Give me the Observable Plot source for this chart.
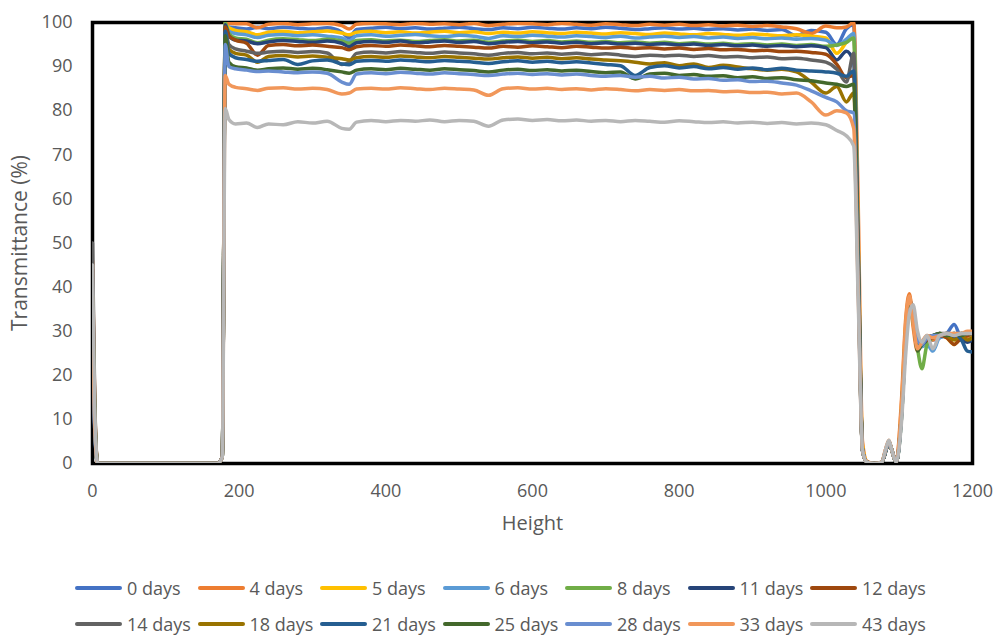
<!DOCTYPE html>
<html><head><meta charset="utf-8">
<script src="https://cdn.jsdelivr.net/npm/d3@7"></script>
<script src="https://cdn.jsdelivr.net/npm/@observablehq/plot@0.6"></script>
<style>
body{margin:0;background:#fff;width:996px;height:636px;overflow:hidden;position:relative;font-family:"Open Sans",sans-serif;color:#595959}
#chart{position:absolute;left:0;top:0}
.leg{position:absolute;display:flex;align-items:center;font-size:18px;white-space:nowrap;height:24px;line-height:24px}
.sw{width:47px;height:4px;border-radius:2px;margin-right:5px;flex:none}
</style></head><body><div id="chart"></div><div id="legend"></div>
<script>
const heights = [0,3,7,170,177,181,186,195,
 210,225,240,260,280,300,320,340,350,360,
 380,400,420,440,460,480,500,520,540,560,
 580,600,620,640,660,680,700,720,740,760,
 780,800,820,840,860,880,900,920,940,960,
 980,1000,1015,1028,
 1038,1044,1050,1056,1066,1076,1082,1086,1090,1096,1103,1109,1114,1119,1125,1131,1138,1146,1155,1165,1175,1185,1193,1200];

const seriesNames = ["0 days","4 days","5 days","6 days","8 days","11 days","12 days","14 days","18 days","21 days","25 days","28 days","33 days","43 days"];
const seriesColors = ["#4472C4","#ED7D31","#FFC000","#5B9BD5","#70AD47","#264478","#9E480E","#636363","#997300","#255E91","#43682B","#698ED0","#F1975A","#B7B7B7"];
const xTicks = [0,200,400,600,800,1000,1200];
const yTicks = [0,10,20,30,40,50,60,70,80,90,100];

const t0 = [25,8,0,0,1.5,99,99,98.8,
 98.5,98.9,98.6,98.9,98.7,98.5,98.8,97.8,96.5,98.4,
 98.7,98.9,98.6,98.8,98.5,98.7,98.9,98.6,98.4,98.8,
 98.6,98.9,98.7,98.5,98.8,98.6,98.9,98.7,98.4,98.6,
 98.8,98.5,98.7,98.4,98.6,98.3,98.5,98.2,98.4,97.0,
 98.2,97.8,95.0,98.6,
 99.5,50,3,0.3,0,0.2,3,5,3,0.3,11,30,36.5,34,28,27,28.5,28,28.5,29.5,31.5,28.5,29.5,29.5];
const t4 = [46,14,0,0,1.5,100,99.8,99.7,
 99.7,98.8,99.6,99.8,99.5,99.7,99.8,99.3,98.5,99.6,
 99.8,99.7,99.5,99.8,99.6,99.7,99.5,99.8,99.3,99.6,
 99.8,99.7,99.5,99.8,99.6,99.4,99.7,99.5,99.3,99.6,
 99.4,99.6,99.3,99.5,99.2,99.4,99.1,99.3,99.0,98.6,
 97.5,99.2,98.8,99.0,
 100,60,5,0.5,0,0.3,3.5,5,3,0.5,14,33,38.5,31,25.5,27.5,28.5,28,29,29.5,28.5,29.5,28.5,29];
const t5 = [40,12,0,0,1.5,99.5,98.8,98.2,
 97.9,97.2,97.8,98.0,97.7,97.9,98.1,97.6,97.2,97.8,
 98.0,97.7,97.9,97.6,97.8,98.0,97.7,97.9,97.5,97.8,
 97.6,97.9,97.7,97.5,97.8,97.6,97.4,97.7,97.5,97.3,
 97.6,97.4,97.2,97.5,97.3,97.1,97.4,97.2,97.0,97.2,
 96.9,96.5,93.0,95.5,
 97,52,4,0.4,0,0.2,3,5,3,0.3,12,31,37,33,27.5,27,28,28.5,29,28.5,27,29,29.5,29.5];
const t6 = [30,9,0,0,1.5,99,98,97.5,
 97.2,96.6,97.1,97.3,97.0,97.2,96.9,96.5,95.8,97.0,
 97.2,96.9,97.1,97.3,97.0,96.8,97.1,96.9,96.4,97.0,
 96.8,97.1,96.9,96.7,97.0,96.8,96.6,96.9,96.5,96.7,
 96.9,96.6,96.8,96.5,96.7,96.4,96.6,96.3,96.5,96.2,
 96.4,96.0,94.8,96.2,
 97.5,50,3,0.3,0,0.2,3,5,3,0.3,11,30,36,33,28,26.5,27,25.5,28.5,29,29.5,29,29.5,29.5];
const t8 = [35,10,0,0,1.5,100,97.5,96.5,
 96.2,95.4,96.0,96.3,96.1,95.9,96.2,95.8,95.3,95.9,
 96.1,95.8,96.0,95.7,95.9,96.1,95.8,96.0,95.5,95.8,
 96.0,95.7,95.9,95.6,95.8,95.5,95.7,95.4,95.6,95.3,
 95.5,95.2,95.4,95.1,95.3,95.0,95.2,94.9,95.1,94.8,
 95.0,94.6,94.9,95.5,
 96.5,48,3,0.3,0,0.2,3,5,3,0.3,10,28,35,32,26,21.5,27,28.5,29,29.5,29,29.5,29,29.5];
const t11 = [42,12,0,0,1.5,99.5,97,96,
 95.8,95.2,95.6,95.9,95.7,95.5,95.8,95.3,94.5,95.4,
 95.7,95.5,95.8,95.4,95.6,95.8,95.5,95.7,95.2,95.5,
 95.7,95.4,95.6,95.3,95.5,95.2,95.4,95.1,95.3,95.0,
 95.2,94.9,95.1,94.8,95.0,94.7,94.9,94.6,94.8,94.5,
 94.7,94.3,91.5,93.5,
 91,48,3,0.3,0,0.2,3,5,3,0.3,11,29,36,33.5,28,27,28,28.5,29,29,28.5,28,27.5,28];
const t12 = [44,13,0,0,1.5,99,97,96,
 95.3,92.6,94.8,95.0,94.7,94.9,94.6,94.3,93.8,94.5,
 94.8,94.6,94.9,94.7,94.5,94.8,94.6,94.4,94.2,94.6,
 94.4,94.7,94.5,94.3,94.6,94.4,94.2,94.4,94.1,94.3,
 94.0,94.2,93.9,94.1,93.8,93.9,93.6,93.7,93.4,93.5,
 93.2,92.8,90.5,87.5,
 88,46,3,0.3,0,0.2,3,5,3,0.3,11,29,36.5,34,29,27.5,28,28.5,29,28.5,27,28.5,29,29.5];
const t14 = [50,15,0,0,1.5,98,95,94,
 93.5,93.0,93.3,93.5,93.2,93.4,93.1,90.5,91.0,93.0,
 93.3,93.1,93.4,93.2,93.0,93.3,93.1,92.9,92.6,93.0,
 93.2,92.9,93.1,92.8,93.0,92.7,92.9,92.6,92.3,92.6,
 92.4,92.6,92.3,92.5,92.2,92.3,92.0,92.2,91.8,91.9,
 91.5,91.0,89.4,86.5,
 93,50,3,0.3,0,0.2,3,5,3,0.3,11,30,37,35,29,27,28.5,29,29.5,29.5,29,29.5,29.5,29.5];
const t18 = [38,11,0,0,1.5,97,94,93,
 92.6,91.0,92.3,92.5,92.2,92.4,92.1,91.8,91.5,92.0,
 92.3,92.1,92.4,92.2,92.0,92.3,92.1,91.9,91.7,92.0,
 92.2,91.9,92.1,91.8,92.0,91.7,91.5,91.3,91.0,90.6,
 90.9,90.2,90.6,89.8,90.3,89.9,89.5,89.2,89.4,88.8,
 86.5,84.0,85.5,82.0,
 84,45,3,0.3,0,0.2,3,5,3,0.3,11,29,36,34,28.5,27.5,28.5,29,29.5,29,28,29,28,28.5];
const t21 = [33,10,0,0,1.5,98,93,92,
 91.6,91.2,91.4,91.6,90.5,91.3,91.5,90.6,90.4,91.2,
 91.4,91.2,91.5,91.3,91.1,91.4,91.2,91.0,90.7,91.1,
 91.3,91.0,91.2,90.9,91.1,90.8,90.5,90.2,88.0,89.8,
 90.2,89.7,90.0,89.5,89.8,89.4,89.7,89.3,89.6,89.2,
 89.0,88.8,88.5,87.8,
 89,45,3,0.3,0,0.2,3,5,3,0.3,11,29,36.5,34,28,27,28.5,29,29.5,29,29.5,28,25.5,25.3];
const t25 = [36,11,0,0,1.5,97,91,90,
 89.7,89.2,89.5,89.7,89.4,89.6,89.3,88.8,88.5,89.2,
 89.5,89.3,89.6,89.4,89.2,89.5,89.3,89.1,88.8,89.2,
 89.4,89.1,89.3,89.0,89.2,88.9,88.6,88.8,87.2,88.3,
 88.5,88.0,88.2,87.8,87.9,87.5,87.7,87.3,87.5,87.0,
 86.8,86.3,86.0,85.5,
 86,44,3,0.3,0,0.2,3,5,3,0.3,10,28,35.5,33,25.5,27,28.5,29,29.5,29,29.5,29,29.5,29.5];
const t28 = [28,8,0,0,1.5,95,90,89.5,
 89.2,88.9,89.0,88.8,88.6,88.8,88.5,86.5,86.0,88.3,
 88.6,88.4,88.7,88.5,88.3,88.6,88.4,88.2,88.0,88.3,
 88.5,88.2,88.4,88.1,88.3,88.0,87.8,88.0,87.6,87.8,
 87.4,87.6,87.2,87.3,86.9,87.0,86.6,86.7,86.3,85.8,
 84.5,83.0,82.0,80.0,
 79.5,42,3,0.3,0,0.2,3,5,3,0.3,10,28,35,33,28,27,28.5,29,29,29.5,29,29.5,29.5,30];
const t33 = [30,9,0,0,1.5,88,86,85.3,
 85.0,84.6,85.1,85.2,84.9,85.1,84.8,83.8,84.0,84.9,
 85.1,84.9,85.2,85.0,84.8,85.1,84.9,84.7,83.5,85.0,
 85.2,84.9,85.1,84.8,85.0,84.7,85.0,84.8,84.5,84.8,
 84.6,84.8,84.5,84.6,84.3,84.4,84.1,84.2,83.8,84.0,
 82.0,79.0,80.0,79.5,
 76,40,3,0.3,0,0.3,3.5,5.3,3,0.4,13,32,38,32,26,27.5,29,28.5,29,29.5,29.5,29.5,30,30];
const t43 = [45,13,0,0,1.5,80.5,78,77,
 77.2,76.2,77.0,76.8,77.5,77.2,77.6,76.0,75.8,77.4,
 77.8,77.5,77.8,77.6,77.9,77.5,77.8,77.6,76.5,77.9,
 78.1,77.8,78.0,77.7,77.9,77.6,77.8,77.5,77.8,77.6,
 77.4,77.7,77.5,77.3,77.5,77.2,77.4,77.1,77.3,77.0,
 77.2,76.8,75.5,74.3,
 72,38,3,0.3,0,0.3,3.5,5.3,3,0.4,9,25,34,36,30,27.5,29,26,29,29.5,29,29.5,29.5,29.5];

const seriesValues = [t0,t4,t5,t6,t8,t11,t12,t14,t18,t21,t25,t28,t33,t43];

const table = [];
seriesValues.forEach((vals, i) => vals.forEach((v, j) => table.push({height: heights[j], transmittance: v, series: seriesNames[i]})));

const plot = Plot.plot({
  width: 996, height: 545,
  marginLeft: 92, marginRight: 24, marginTop: 22, marginBottom: 82,
  style: {fontFamily: "'Open Sans', sans-serif", fontSize: "18px", color: "#595959", background: "white", overflow: "visible"},
  x: {domain: [0, 1200], ticks: xTicks, tickFormat: d => String(d), tickSize: 0, tickPadding: 21, label: null},
  y: {domain: [0, 100], ticks: yTicks, tickFormat: d => String(d), tickSize: 0, tickPadding: 20, label: null},
  color: {domain: seriesNames, range: seriesColors},
  marks: [
    Plot.frame({stroke: "black", strokeWidth: 3.5}),
    Plot.line(table, {x: "height", y: "transmittance", z: "series", stroke: "series", strokeWidth: 3.5, curve: "monotone-x", clip: true}),
    Plot.text(["Height"], {text: d => d, frameAnchor: "bottom", dy: 66, fill: "#595959", fontSize: 20}),
    Plot.text(["Transmittance (%)"], {text: d => d, frameAnchor: "left", textAnchor: "middle", dx: -72, rotate: -90, fill: "#595959", fontSize: 21})
  ]
});
document.getElementById("chart").appendChild(plot);

const legend = document.getElementById("legend");
seriesNames.forEach((name, i) => {
  const row = Math.floor(i / 7), col = i % 7;
  const item = document.createElement("div");
  item.className = "leg";
  item.style.left = (75 + col * 122.5) + "px";
  item.style.top = (576 + row * 36) + "px";
  const sw = document.createElement("span");
  sw.className = "sw";
  sw.style.background = seriesColors[i];
  const tx = document.createElement("span");
  tx.textContent = name;
  item.appendChild(sw); item.appendChild(tx);
  legend.appendChild(item);
});
</script></body></html>
